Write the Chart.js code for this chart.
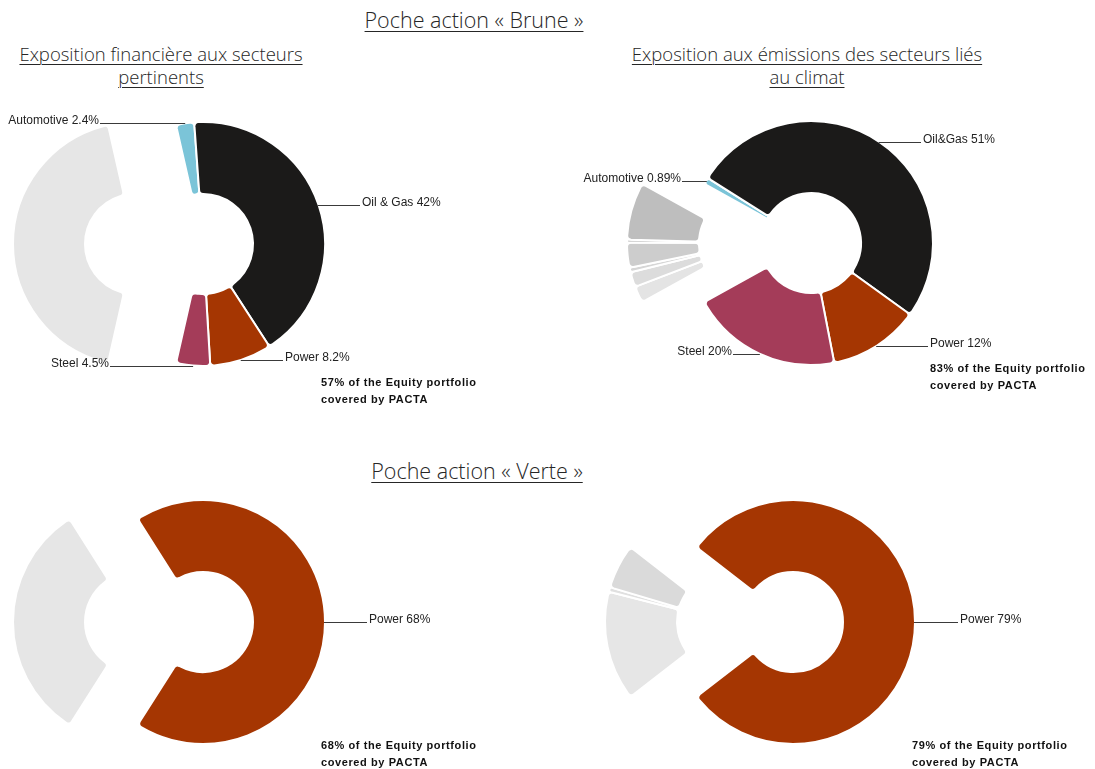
<!DOCTYPE html>
<html lang="fr">
<head>
<meta charset="utf-8">
<title>Poche action – exposition PACTA</title>
<script src="https://cdn.jsdelivr.net/npm/chart.js@4.4.1/dist/chart.umd.min.js"></script>
<style>
  html, body { margin: 0; padding: 0; background: #fff; }
  body { position: relative; width: 1095px; height: 769px; overflow: hidden; font-family: "Open Sans", "Noto Sans", sans-serif; }
  .titre { position: absolute; transform: translateX(-50%); white-space: nowrap; text-align: center; color: #262626; font-weight: 300; text-decoration: underline; text-decoration-thickness: 1px; text-underline-offset: 3px; }
  .poche { font-size: 21.5px; line-height: 24px; }
  .sous { font-size: 18.5px; line-height: 23px; }
  .couv { position: absolute; font: bold 11px "Liberation Sans", Arial, sans-serif; letter-spacing: 0.6px; line-height: 17px; color: #111; white-space: nowrap; }
  canvas { position: absolute; }
</style>
</head>
<body>

<div class="titre poche" style="left:474px; top:8px">Poche action « Brune »</div>
<div class="titre sous" style="left:161px; top:42px">Exposition financière aux secteurs<br>pertinents</div>
<div class="titre sous" style="left:807px; top:42px">Exposition aux émissions des secteurs liés<br>au climat</div>
<div class="titre poche" style="left:477px; top:459px">Poche action « Verte »</div>

<canvas id="brunFin" width="560" height="400"></canvas>
<canvas id="brunEmi" width="560" height="400"></canvas>
<canvas id="vertFin" width="560" height="400"></canvas>
<canvas id="vertEmi" width="560" height="400"></canvas>

<div class="couv" style="left:321px; top:374px">57% of the Equity portfolio<br>covered by PACTA</div>
<div class="couv" style="left:930px; top:360px">83% of the Equity portfolio<br>covered by PACTA</div>
<div class="couv" style="left:321px; top:737px">68% of the Equity portfolio<br>covered by PACTA</div>
<div class="couv" style="left:912px; top:737px">79% of the Equity portfolio<br>covered by PACTA</div>

<script>
// ---- Données (%) — un libellé vide = part hors secteurs PACTA
// Poche brune, exposition financière
const brunFinSecteurs = ['Automotive', 'Oil & Gas', 'Power', 'Steel', ''];
const brunFinParts    = [2.4, 42, 8.2, 4.5, 42.9];

// Poche brune, émissions
const brunEmiSecteurs = ['Automotive', 'Oil&Gas', 'Power', 'Steel', '', '', '', '', '', ''];
const brunEmiParts    = [0.89, 51, 12, 20, 2.2, 2.0, 0.6, 3.3, 0.4, 7.6];

// Poche verte, exposition financière
const vertFinSecteurs = ['Power', ''];
const vertFinParts    = [68, 32];

// Poche verte, émissions
const vertEmiSecteurs = ['Power', '', '', ''];
const vertEmiParts    = [79, 14.5, 0.6, 5.9];

// ---- Couleurs
const couleursSecteur = {
  'Automotive': '#7bc4d8',
  'Oil & Gas': '#1b1a19',
  'Oil&Gas': '#1b1a19',
  'Power': '#a53602',
  'Steel': '#a43c59'
};
const grisBrunFin = ['#e6e6e6'];
const grisBrunEmi = ['#e4e4e4', '#dcdcdc', '#d6d6d6', '#cdcdcd', '#c9c9c9', '#bebebe'];
const grisVertFin = ['#e6e6e6'];
const grisVertEmi = ['#e6e6e6', '#e0e0e0', '#dadada'];

// ---- Géométrie commune
const RAYON = 122;
const TROU = 50;
const W = 560, H = 400;

// décale chaque groupe (secteurs couverts / reste) d'un bloc le long de sa bissectrice
const groupPull = {
  id: 'groupPull',
  afterDatasetUpdate(chart, args, opts) {
    const arcs = args.meta.data;
    const labels = chart.data.labels;
    [true, false].forEach(couvert => {
      const idx = labels.map((l, i) => i).filter(i => (labels[i] !== '') === couvert);
      if (!idx.length) return;
      const mid = (arcs[idx[0]].startAngle + arcs[idx[idx.length - 1]].endAngle) / 2;
      idx.forEach(i => {
        arcs[i].x += Math.cos(mid) * opts.pull;
        arcs[i].y += Math.sin(mid) * opts.pull;
      });
    });
  }
};

// libellés avec trait horizontal depuis le bord extérieur de la part
const leaderLabels = {
  id: 'leaderLabels',
  afterDatasetsDraw(chart, args, opts) {
    const ctx = chart.ctx;
    const arcs = chart.getDatasetMeta(0).data;
    const values = chart.data.datasets[0].data;
    const cx = (chart.chartArea.left + chart.chartArea.right) / 2;
    ctx.save();
    ctx.font = '12px "Liberation Sans", Arial, sans-serif';
    ctx.textBaseline = 'alphabetic';
    ctx.lineWidth = 1;
    chart.data.labels.forEach((nom, i) => {
      if (!nom) return;
      const a = arcs[i];
      const mid = (a.startAngle + a.endAngle) / 2;
      const px = a.x + Math.cos(mid) * (a.outerRadius - 1);
      const py = Math.round(a.y + Math.sin(mid) * a.outerRadius) + 0.5;
      const endX = cx + opts.ancres[nom];
      const txt = nom + ' ' + values[i] + '%';
      ctx.strokeStyle = '#3a3a3a';
      ctx.beginPath();
      ctx.moveTo(px, py);
      ctx.lineTo(endX, py);
      ctx.stroke();
      ctx.fillStyle = '#222';
      if (endX > px) {
        ctx.textAlign = 'left';
        ctx.fillText(txt, endX + 2, py);
      } else {
        ctx.textAlign = 'right';
        ctx.fillText(txt, endX - 1, py);
      }
    });
    ctx.restore();
  }
};

function pocheChart(id, secteurs, parts, gris, centre, pull, ancres) {
  const canvas = document.getElementById(id);
  canvas.style.left = (centre[0] - W / 2) + 'px';
  canvas.style.top = (centre[1] - H / 2) + 'px';
  canvas.style.width = W + 'px';
  canvas.style.height = H + 'px';

  let g = 0;
  const couleurs = secteurs.map(s => s ? couleursSecteur[s] : gris[g++]);
  const total = parts.reduce((s, v) => s + v, 0);
  const couvert = parts.filter((v, i) => secteurs[i] !== '').reduce((s, v) => s + v, 0);

  return new Chart(canvas, {
    type: 'doughnut',
    data: {
      labels: secteurs,
      datasets: [{
        data: parts,
        backgroundColor: couleurs,
        borderColor: '#ffffff',
        borderWidth: 2,
        borderRadius: 4
      }]
    },
    options: {
      responsive: false,
      animation: false,
      radius: RAYON,
      cutout: (TROU / RAYON * 100) + '%',
      // secteurs couverts centrés sur la droite
      rotation: 90 - couvert / total * 180,
      layout: { padding: 0 },
      events: [],
      plugins: {
        legend: { display: false },
        tooltip: { enabled: false },
        groupPull: { pull },
        leaderLabels: { ancres }
      }
    },
    plugins: [groupPull, leaderLabels]
  });
}

pocheChart('brunFin', brunFinSecteurs, brunFinParts, grisBrunFin, [169, 244], 34,
  { 'Automotive': -69, 'Oil & Gas': 191, 'Power': 114, 'Steel': -59 });
pocheChart('brunEmi', brunEmiSecteurs, brunEmiParts, grisBrunEmi, [780, 243], 31,
  { 'Automotive': -98, 'Oil&Gas': 141, 'Power': 148, 'Steel': -47 });
pocheChart('vertFin', vertFinSecteurs, vertFinParts, grisVertFin, [169, 622], 34,
  { 'Power': 198 });
pocheChart('vertEmi', vertEmiSecteurs, vertEmiParts, grisVertEmi, [760, 622], 33,
  { 'Power': 198 });
</script>
</body>
</html>
